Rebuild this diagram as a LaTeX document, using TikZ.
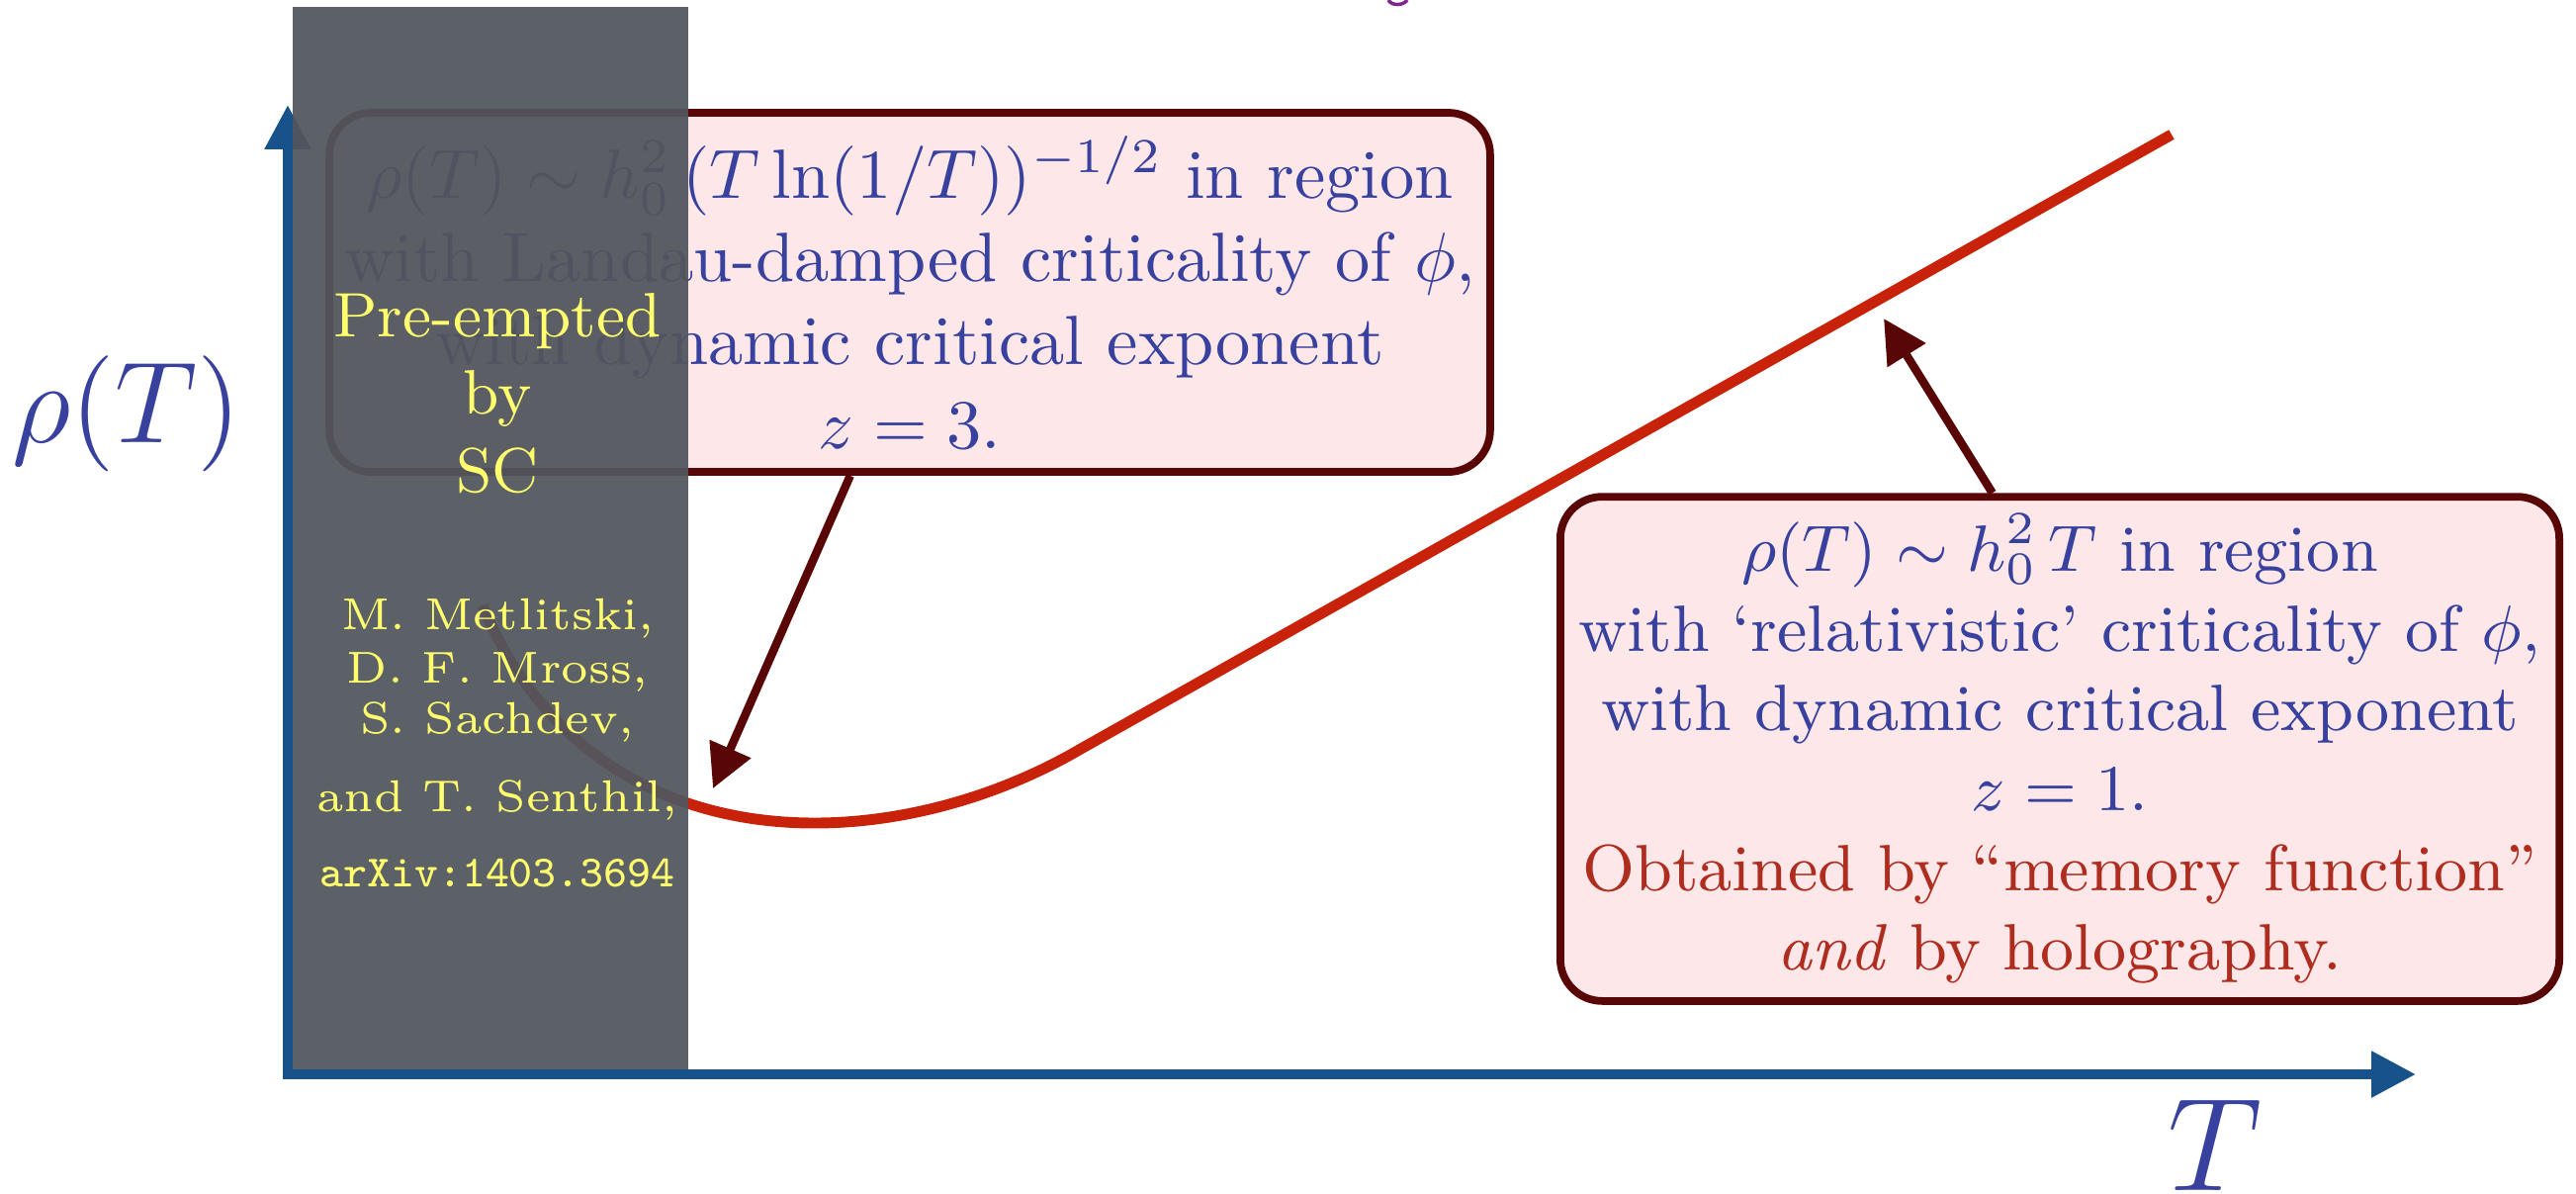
\documentclass[tikz,border=0pt]{standalone}
\usepackage{fix-cm}
\usetikzlibrary{arrows.meta,calc}
\definecolor{axisblue}{RGB}{24,82,138}
\definecolor{boxred}{RGB}{88,6,6}
\definecolor{boxfill}{RGB}{253,231,233}
\definecolor{textblue}{RGB}{56,66,158}
\definecolor{curvered}{RGB}{200,35,10}
\definecolor{textred}{RGB}{175,45,30}
\definecolor{grayov}{RGB}{82,86,94}
\definecolor{yellowtxt}{RGB}{255,255,110}
\definecolor{titlepurple}{RGB}{125,40,140}
\begin{document}
\begin{tikzpicture}[x=0.14184pt,y=-0.14184pt,
  every node/.style={inner sep=0pt},
  axis/.style={draw=axisblue,line width=1.42pt,
    arrows={Triangle[length=6.35pt,width=6.3pt]-Triangle[length=6.35pt,width=6.3pt]}},
  infobox/.style={draw=boxred,fill=boxfill,line width=1.1pt,rounded corners=6pt,
    align=center,text=textblue},
  pointer/.style={draw=boxred,line width=1.2pt,-{Triangle[length=6.2pt,width=6.2pt]}},
  curve/.style={draw=curvered,line width=1.55pt},
  overlay box/.style={fill=grayov,opacity=.94},
  ytext/.style={text=yellowtxt,anchor=base},
  axlabel/.style={text=textblue,anchor=base}]
\useasboundingbox (0,0) rectangle (2605,1206);

% cut-off title glyph at the top
\draw[titlepurple,line width=0.5pt] (1404,0) .. controls (1407,6) and (1419,6) .. (1423,0);

% axes
\coordinate (ytip) at (291,106);
\coordinate (xtip) at (2443,1086);
\draw[axis] (ytip) |- (xtip);
\node[axlabel,font=\fontsize{16.6}{20}\selectfont] (ylab) at (128,447) {$\rho(T)$};
\node[axlabel,font=\fontsize{19}{23}\selectfont] (xlab) at (2240,1203) {$T$};

% resistivity curve
\coordinate (c0) at (488,612);
\coordinate (ckink) at (1093,757);
\coordinate (cend) at (2196,136);
\coordinate (tipL) at (721,797);
\coordinate (tipR) at (1905,322);
\draw[curve] (c0) .. controls (600,880) and (900,870) .. (ckink) -- (cend);

% left box
\node[infobox,minimum width=166.5pt,minimum height=51.5pt,
  font=\fontsize{10}{11.95}\selectfont] (lbox) at (920,295.5)
  {$\rho(T) \sim h_0^2 \, (T \ln (1/T))^{-1/2}$ in region\\
   with Landau-damped criticality of $\phi$,\\
   with dynamic critical exponent\\
   $z=3$.};
\draw[pointer] ($(lbox.south west)!0.449!(lbox.south east)$) -- (tipL);

% right box
\node[infobox,minimum width=143.3pt,minimum height=72.3pt,
  font=\fontsize{9.4}{11.43}\selectfont] (rbox) at (2083,757)
  {$\rho(T) \sim h_0^2 \, T$ in region\\
   with `relativistic' criticality of $\phi$,\\
   with dynamic critical exponent\\
   $z=1$.\\
   \textcolor{textred}{Obtained by ``memory function''}\\
   \textcolor{textred}{\emph{and} by holography.}};
\draw[pointer] ($(rbox.north west)!0.433!(rbox.north east)$) -- (tipR);

% grey overlay
\fill[overlay box] (296,7) rectangle (696,1081);
\node[ytext,font=\fontsize{9}{11}\selectfont] (pre1) at (503,340) {Pre-empted};
\node[ytext,font=\fontsize{9}{11}\selectfont] (pre2) at (503,418) {by};
\node[ytext,font=\fontsize{9}{11}\selectfont] (pre3) at (503,497) {SC};
\node[ytext,font=\fontsize{6.4}{7.5}\selectfont] (au1) at (503,636) {M. Metlitski,};
\node[ytext,font=\fontsize{6.4}{7.5}\selectfont] (au2) at (503,690) {D. F. Mross,};
\node[ytext,font=\fontsize{6.4}{7.5}\selectfont] (au3) at (503,741) {S. Sachdev,};
\node[ytext,font=\fontsize{6.4}{7.5}\selectfont] (au4) at (503,820) {and T. Senthil,};
\node[ytext,font=\fontsize{6.4}{7.5}\selectfont\ttfamily] (au5) at (503,896) {arXiv:1403.3694};
\end{tikzpicture}
\end{document}
